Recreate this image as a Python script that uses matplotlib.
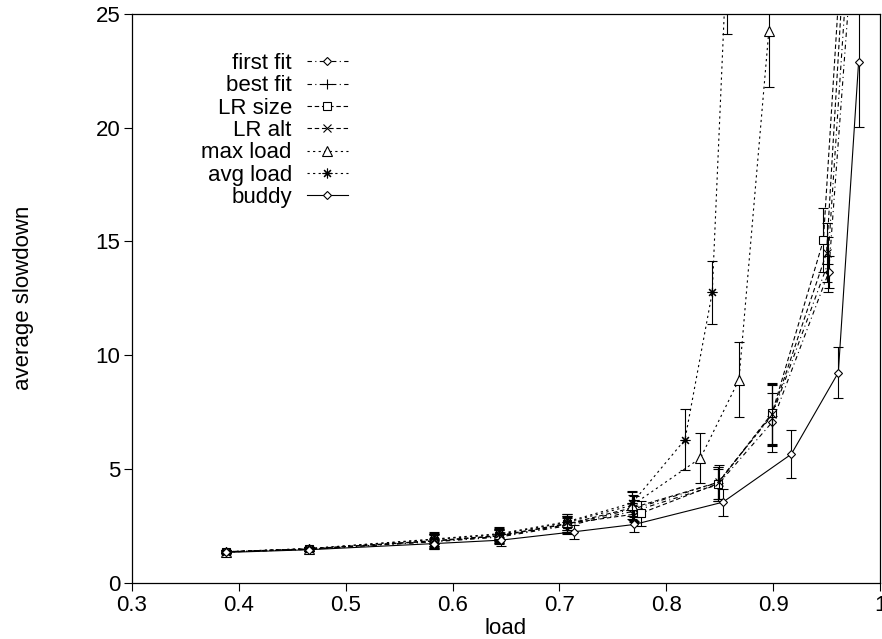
import matplotlib
matplotlib.use('Agg')
import matplotlib.pyplot as plt

plt.rcParams['font.family'] = ['Liberation Sans', 'DejaVu Sans']

# x positions (load) and average slowdown per allocator, with error half widths
ff_x = [0.388, 0.466, 0.583, 0.643, 0.707, 0.770, 0.848, 0.899, 0.952, 0.980]
ff_y = [1.35, 1.47, 1.80, 2.00, 2.50, 3.15, 4.30, 7.05, 13.65, 31.5]
ff_e = [0.06, 0.08, 0.30, 0.30, 0.35, 0.50, 0.70, 1.30, 0.70, 3.0]

bf_x = [0.388, 0.466, 0.583, 0.643, 0.707, 0.770, 0.848, 0.899, 0.951, 0.978]
bf_y = [1.35, 1.47, 1.82, 2.03, 2.55, 3.25, 4.40, 7.35, 14.0, 33.0]
bf_e = [0.06, 0.08, 0.30, 0.30, 0.35, 0.55, 0.70, 1.35, 1.20, 3.0]

lrs_x = [0.388, 0.466, 0.583, 0.643, 0.707, 0.776, 0.848, 0.899, 0.947, 0.975]
lrs_y = [1.36, 1.49, 1.85, 2.07, 2.60, 3.05, 4.35, 7.45, 15.05, 36.0]
lrs_e = [0.06, 0.08, 0.30, 0.30, 0.35, 0.55, 0.75, 1.35, 1.40, 3.0]

lra_x = [0.388, 0.466, 0.583, 0.643, 0.707, 0.769, 0.849, 0.899, 0.950, 0.976]
lra_y = [1.36, 1.48, 1.83, 2.05, 2.58, 3.30, 4.42, 7.40, 14.5, 35.0]
lra_e = [0.06, 0.08, 0.30, 0.30, 0.35, 0.55, 0.75, 1.35, 1.30, 3.0]

ml_x = [0.388, 0.466, 0.583, 0.643, 0.707, 0.768, 0.832, 0.868, 0.896]
ml_y = [1.36, 1.50, 1.90, 2.12, 2.65, 3.40, 5.48, 8.92, 24.27]
ml_e = [0.06, 0.08, 0.30, 0.30, 0.35, 0.60, 1.10, 1.65, 2.50]

al_x = [0.388, 0.466, 0.583, 0.643, 0.707, 0.768, 0.8175, 0.843, 0.8565]
al_y = [1.36, 1.50, 1.92, 2.15, 2.68, 3.50, 6.29, 12.76, 27.5]
al_e = [0.06, 0.08, 0.30, 0.30, 0.35, 0.55, 1.35, 1.40, 3.4]

bd_x = [0.388, 0.466, 0.583, 0.645, 0.714, 0.770, 0.853, 0.917, 0.961, 0.980]
bd_y = [1.33, 1.45, 1.72, 1.87, 2.24, 2.56, 3.54, 5.65, 9.24, 22.9]
bd_e = [0.05, 0.07, 0.25, 0.25, 0.30, 0.35, 0.60, 1.05, 1.10, 2.85]

x_ticks = [0.3, 0.4, 0.5, 0.6, 0.7, 0.8, 0.9, 1.0]
x_labels = ['0.3', '0.4', '0.5', '0.6', '0.7', '0.8', '0.9', '1']
y_ticks = [0, 5, 10, 15, 20, 25]

series = [
    ('first fit', ff_x, ff_y, ff_e, 'D', (0, (4, 3, 1, 3)), 4.5),
    ('best fit', bf_x, bf_y, bf_e, '+', (0, (4, 3, 1, 3)), 7),
    ('LR size', lrs_x, lrs_y, lrs_e, 's', (0, (4, 2.5)), 6),
    ('LR alt', lra_x, lra_y, lra_e, 'x', (0, (4, 2.5)), 6),
    ('max load', ml_x, ml_y, ml_e, '^', (0, (2, 3)), 6.5),
    ('avg load', al_x, al_y, al_e, (8, 2, 0), (0, (2, 3)), 7),
    ('buddy', bd_x, bd_y, bd_e, 'D', '-', 4.5),
]

fs = 16

fig = plt.figure(figsize=(8.82, 6.39), dpi=100)
ax = fig.add_axes([132 / 882, 1 - 582.7 / 639, 748 / 882, 568.7 / 639])

for label, xs, ys, es, mk, ls, ms in series:
    ax.errorbar(xs, ys, yerr=es, fmt='none', ecolor='black', elinewidth=0.8,
                capsize=3.5, capthick=0.8)
    ax.plot(xs, ys, color='black', linestyle=ls, linewidth=0.8, marker=mk,
            markersize=ms, markerfacecolor='white', markeredgecolor='black',
            markeredgewidth=0.8, label=label)

ax.set_xlim(0.3, 1.0)
ax.set_ylim(0, 25)
ax.set_xticks(x_ticks)
ax.set_xticklabels(x_labels)
ax.set_yticks(y_ticks)
ax.tick_params(direction='out', length=5.5, width=0.8, labelsize=fs,
               top=False, right=False, pad=3)
for sp in ax.spines.values():
    sp.set_linewidth(0.9)

fig.text(24 / 882, 1 - 298 / 639, 'average slowdown', rotation=90,
         ha='center', va='center', fontsize=fs)
fig.text(506 / 882, 1 - 628 / 639, 'load', ha='center', va='center',
         fontsize=fs)

ax.legend(loc='upper right', bbox_to_anchor=(348 / 882, 1 - 53 / 639),
          bbox_transform=fig.transFigure, frameon=False, markerfirst=False,
          fontsize=fs, handlelength=1.85, handletextpad=0.68,
          labelspacing=0.06, borderpad=0, borderaxespad=0)

fig.savefig('out.png', dpi=100)
